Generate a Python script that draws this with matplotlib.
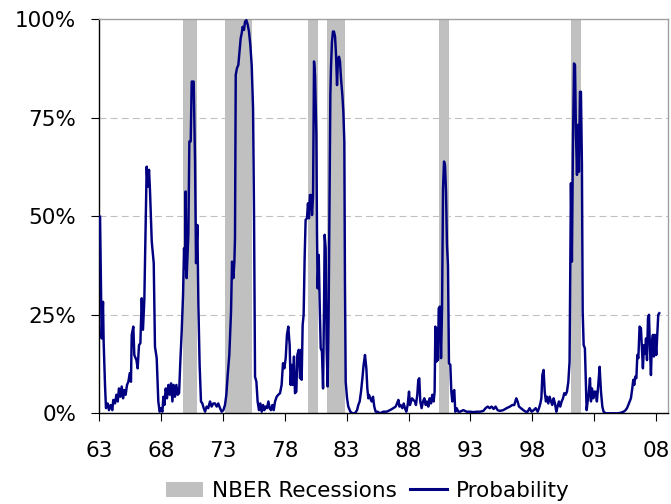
import matplotlib
matplotlib.use("Agg")
import matplotlib.pyplot as plt
from matplotlib.patches import Patch
from matplotlib.lines import Line2D

# recession bands (decimal years, as drawn on the chart)
rec_start = [1969.74, 1973.16, 1979.90, 1981.43, 1990.44, 2001.13]
rec_end = [1970.87, 1975.32, 1980.66, 1982.89, 1991.29, 2001.94]

# recession probability, %
prob_year = [
    1963.06, 1963.19, 1963.30, 1963.35, 1963.46, 1963.54, 1963.68, 1963.78, 1963.92, 1964.05,
    1964.13, 1964.27, 1964.38, 1964.49, 1964.59, 1964.70, 1964.81, 1964.92, 1965.02, 1965.13,
    1965.24, 1965.35, 1965.46, 1965.56, 1965.62, 1965.75, 1965.83, 1966.00, 1966.10, 1966.21,
    1966.32, 1966.43, 1966.53, 1966.64, 1966.83, 1966.91, 1967.02, 1967.10, 1967.24, 1967.40,
    1967.50, 1967.64, 1967.77, 1967.88, 1967.99, 1968.10, 1968.18, 1968.26, 1968.37, 1968.47,
    1968.58, 1968.69, 1968.80, 1968.91, 1969.01, 1969.12, 1969.23, 1969.34, 1969.45, 1969.55,
    1969.66, 1969.77, 1969.85, 1969.93,
    1969.98, 1970.06, 1970.20, 1970.28, 1970.39, 1970.47, 1970.63, 1970.74, 1970.82, 1970.93,
    1971.01, 1971.11, 1971.22, 1971.33, 1971.44, 1971.55, 1971.68, 1971.81, 1971.95, 1972.08,
    1972.22, 1972.35, 1972.49, 1972.62, 1972.76, 1972.89, 1973.03, 1973.16, 1973.27, 1973.38,
    1973.51, 1973.65, 1973.73, 1973.84, 1973.92, 1973.97, 1974.03, 1974.13, 1974.24, 1974.32,
    1974.43, 1974.51, 1974.59, 1974.70, 1974.78, 1974.89, 1975.00, 1975.10, 1975.21, 1975.32,
    1975.43, 1975.51, 1975.59, 1975.70, 1975.80, 1975.91, 1976.02, 1976.13, 1976.24, 1976.34,
    1976.45, 1976.56, 1976.67, 1976.77, 1976.88, 1976.99, 1977.10, 1977.21, 1977.34, 1977.47,
    1977.61, 1977.74, 1977.85, 1977.96, 1978.07, 1978.17, 1978.28, 1978.39, 1978.47, 1978.55,
    1978.63, 1978.74, 1978.82, 1978.93, 1979.01, 1979.12, 1979.23, 1979.31, 1979.36, 1979.44,
    1979.52, 1979.60, 1979.68, 1979.79, 1979.87, 1979.95, 1980.03, 1980.12, 1980.20, 1980.28,
    1980.36, 1980.44, 1980.55, 1980.60, 1980.65, 1980.74, 1980.82, 1980.90, 1981.00, 1981.09,
    1981.17, 1981.22, 1981.30, 1981.38, 1981.46, 1981.54, 1981.62, 1981.68, 1981.73, 1981.81,
    1981.89, 1981.97, 1982.06, 1982.14, 1982.22, 1982.30, 1982.38, 1982.46, 1982.54, 1982.65,
    1982.73, 1982.81, 1982.86, 1982.92, 1983.03, 1983.13, 1983.30, 1983.46, 1983.67, 1983.84,
    1983.94, 1984.05, 1984.16, 1984.27, 1984.37, 1984.48, 1984.59, 1984.67, 1984.75,
    1984.80, 1984.91, 1985.02, 1985.13, 1985.23, 1985.34, 1985.50, 1985.69, 1985.96, 1986.23,
    1986.50, 1986.77, 1986.96, 1987.07, 1987.18, 1987.26, 1987.36, 1987.50, 1987.61, 1987.71,
    1987.82, 1987.93, 1988.04, 1988.12, 1988.20, 1988.28, 1988.39, 1988.52, 1988.60, 1988.71,
    1988.79, 1988.87, 1988.95, 1989.06, 1989.17, 1989.28, 1989.39, 1989.49, 1989.60, 1989.71,
    1989.82, 1989.92, 1990.03, 1990.11, 1990.17, 1990.25, 1990.30, 1990.38, 1990.44, 1990.54,
    1990.63, 1990.71, 1990.79, 1990.87, 1990.95, 1991.03, 1991.11, 1991.19, 1991.27, 1991.38,
    1991.46, 1991.54, 1991.62, 1991.70, 1991.78, 1991.89, 1992.03,
    1992.16, 1992.43, 1992.70, 1992.97, 1993.24, 1993.51, 1993.78, 1994.05, 1994.23, 1994.40,
    1994.56, 1994.72, 1994.88, 1995.04, 1995.20, 1995.39, 1995.66, 1995.93, 1996.20, 1996.39,
    1996.55, 1996.71, 1996.82, 1996.93, 1997.09, 1997.28, 1997.47, 1997.63, 1997.79, 1997.95,
    1998.12, 1998.28, 1998.44, 1998.55, 1998.66, 1998.74, 1998.82, 1998.92, 1999.01,
    1999.11, 1999.19, 1999.30, 1999.41, 1999.52, 1999.62, 1999.73, 1999.84, 1999.95, 2000.05,
    2000.16, 2000.27, 2000.38, 2000.49, 2000.59, 2000.70, 2000.81, 2000.92, 2001.02, 2001.08,
    2001.13, 2001.21, 2001.29, 2001.38, 2001.46, 2001.54, 2001.62, 2001.70, 2001.78, 2001.86,
    2001.94, 2002.02, 2002.08, 2002.16, 2002.26, 2002.32, 2002.40, 2002.48, 2002.56, 2002.67,
    2002.75, 2002.83, 2002.94, 2003.02, 2003.13, 2003.23, 2003.34, 2003.45, 2003.56, 2003.67,
    2003.77, 2003.94, 2004.15, 2004.42, 2004.69, 2004.96, 2005.23, 2005.39, 2005.55, 2005.66,
    2005.77, 2005.88, 2005.98, 2006.09, 2006.17, 2006.25, 2006.33, 2006.42, 2006.50, 2006.58,
    2006.68, 2006.79, 2006.87, 2006.95, 2007.04, 2007.12, 2007.20, 2007.28, 2007.36, 2007.44,
    2007.52, 2007.60, 2007.68, 2007.76, 2007.84, 2007.92, 2008.03, 2008.11, 2008.19, 2008.27,
]
prob_value = [
    49.9, 19.0, 28.3, 18.2, 7.2, 1.3, 2.5, 0.8, 2.1, 0.8,
    3.4, 2.5, 4.7, 3.0, 6.3, 4.2, 6.8, 3.8, 5.9, 4.7,
    7.2, 8.0, 10.2, 8.0, 19.9, 22.0, 14.8, 13.5, 11.4, 17.3,
    17.8, 29.2, 21.2, 28.8, 62.6, 57.5, 61.8, 56.3, 43.6, 38.1,
    16.9, 14.0, 3.0, 0.4, 1.3, 0.4, 4.2, 2.1, 6.3, 3.8,
    7.2, 4.7, 7.6, 3.0, 7.2, 4.2, 7.2, 4.7, 5.1, 13.1,
    20.7, 30.0, 41.9, 36.8,
    56.3, 34.3, 45.3, 69.0, 69.0, 84.2, 84.2, 63.9, 38.1, 47.8,
    27.5, 12.3, 3.0, 2.5, 1.3, 0.4, 1.7, 1.3, 3.0, 1.7,
    2.5, 2.5, 1.7, 2.5, 1.3, 0.4, 0.8, 2.1, 4.7, 9.7,
    14.8, 25.8, 38.5, 34.3, 38.5, 44.4, 85.9, 87.6, 88.4, 91.4,
    95.2, 96.4, 98.1, 97.3, 99.4, 99.8, 98.6, 96.9, 93.5, 88.4,
    77.4, 50.3, 9.3, 8.0, 3.0, 0.8, 2.5, 0.4, 2.1, 0.8,
    1.7, 1.3, 3.0, 1.3, 0.8, 2.1, 0.8, 3.0, 4.2, 4.7,
    5.1, 7.2, 12.7, 11.4, 14.0, 19.9, 22.0, 17.3, 7.2, 12.3,
    7.2, 14.4, 5.1, 5.5, 14.8, 16.1, 8.9, 16.1, 8.5, 22.4,
    25.0, 39.3, 49.1, 49.5, 53.3, 49.5, 55.4, 55.4, 50.3, 55.0,
    89.3, 85.9, 70.6, 46.1, 31.7, 40.2, 27.5, 16.5, 15.7, 6.3,
    27.5, 45.3, 41.9, 16.5, 6.8, 25.0, 58.8, 80.8, 87.6, 94.3,
    96.9, 96.9, 95.6, 90.9, 83.3, 90.1, 90.5, 89.3, 85.0, 80.8,
    76.6, 68.9, 33.4, 8.0, 3.8, 1.7, 0.4, 0.0, 0.0, 0.8,
    2.1, 3.0, 5.5, 8.9, 12.3, 14.8, 11.4, 6.3, 3.8,
    4.7, 3.8, 3.0, 4.2, 1.7, 0.4, 0.4, 0.0, 0.4, 0.4,
    0.8, 1.3, 1.7, 2.5, 3.4, 1.7, 2.1, 1.3, 2.5, 1.3,
    0.4, 2.1, 5.5, 2.1, 3.0, 3.8, 3.4, 3.0, 2.1, 4.7,
    8.5, 8.9, 3.0, 1.3, 3.0, 3.8, 2.1, 3.0, 1.7, 3.8,
    2.5, 4.7, 3.0, 5.5, 22.0, 13.1, 21.6, 13.5, 26.6, 27.1,
    14.0, 26.6, 57.1, 63.9, 63.0, 56.3, 42.7, 37.6, 12.7, 12.3,
    5.5, 3.0, 5.5, 5.9, 0.4, 1.3, 0.4,
    0.4, 0.8, 0.4, 0.4, 0.3, 0.4, 0.4, 0.6, 1.3, 1.7,
    1.3, 1.7, 1.1, 1.7, 0.8, 0.6, 0.8, 1.3, 1.7, 2.1,
    2.1, 3.8, 3.0, 1.7, 1.3, 0.8, 0.4, 0.4, 1.3, 0.4,
    0.8, 1.3, 0.4, 1.3, 2.5, 3.8, 9.7, 11.0, 5.5,
    3.0, 4.2, 2.5, 4.2, 3.0, 2.1, 3.8, 2.5, 0.4, 1.7,
    3.0, 1.7, 3.0, 3.8, 5.1, 4.7, 5.5, 8.0, 13.1, 38.5,
    58.4, 38.5, 67.3, 88.8, 88.4, 70.6, 60.5, 73.2, 61.3, 81.6,
    81.6, 63.0, 25.8, 17.3, 16.5, 9.7, 0.8, 3.0, 4.7, 8.9,
    3.0, 6.3, 3.8, 5.5, 5.5, 3.0, 7.2, 11.8, 5.5, 1.7,
    0.4, 0.0, 0.0, 0.0, 0.0, 0.0, 0.2, 0.4, 0.8, 1.3,
    2.1, 3.0, 3.8, 6.3, 8.5, 7.2, 9.3, 8.9, 14.8, 14.0,
    22.0, 21.6, 16.5, 11.4, 17.3, 15.2, 19.0, 13.5, 24.1, 25.0,
    16.5, 9.7, 18.2, 19.9, 14.4, 19.9, 14.8, 19.9, 25.0, 25.4,
]

tick_years = [1963, 1968, 1973, 1978, 1983, 1988, 1993, 1998, 2003, 2008]
tick_labels = ["63", "68", "73", "78", "83", "88", "93", "98", "03", "08"]
y_ticks = [0, 25, 50, 75, 100]
y_labels = ["0%", "25%", "50%", "75%", "100%"]

plt.rcParams['font.family'] = ['DejaVu Sans']
plt.rcParams['lines.scale_dashes'] = False

fig = plt.figure(figsize=(6.71, 5.04), dpi=100)
ax = fig.add_axes([0.148, 0.180, 0.847, 0.7817])

for g in [25, 50, 75]:
    ax.axhline(g, color='#c0c0c0', lw=0.8, dashes=(5, 3), zorder=0)

for s, e in zip(rec_start, rec_end):
    ax.axvspan(s, e, color='#c0c0c0', lw=0, zorder=1)

ax.plot(prob_year, prob_value, color='#000080', lw=1.75, zorder=3,
        solid_joinstyle='round')

ax.set_xlim(1963, 2008.95)
ax.set_ylim(0, 100)
ax.set_xticks(tick_years)
ax.set_xticklabels(tick_labels)
ax.set_yticks(y_ticks)
ax.set_yticklabels(y_labels)
ax.tick_params(axis='x', direction='out', length=6, width=0.8, pad=14,
               labelsize=15.5, colors='black')
ax.tick_params(axis='y', direction='out', length=5.5, width=0.8, pad=11,
               labelsize=15.5, colors='black')

ax.spines['left'].set_color('black')
ax.spines['bottom'].set_color('black')
ax.spines['top'].set_color('#a0a0a0')
ax.spines['right'].set_color('#a0a0a0')
for sp in ax.spines.values():
    sp.set_linewidth(1.0)

handles = [Patch(facecolor='#c0c0c0', edgecolor='none'),
           Line2D([0], [0], color='#000080', lw=2.2)]
fig.legend(handles, ["NBER Recessions", "Probability"], loc='center',
           bbox_to_anchor=(0.548, 0.026), ncol=2, frameon=False,
           fontsize=15.5, handlelength=1.75, handletextpad=0.4,
           columnspacing=0.6, borderpad=0, borderaxespad=0)

fig.savefig("out.png", dpi=100)
